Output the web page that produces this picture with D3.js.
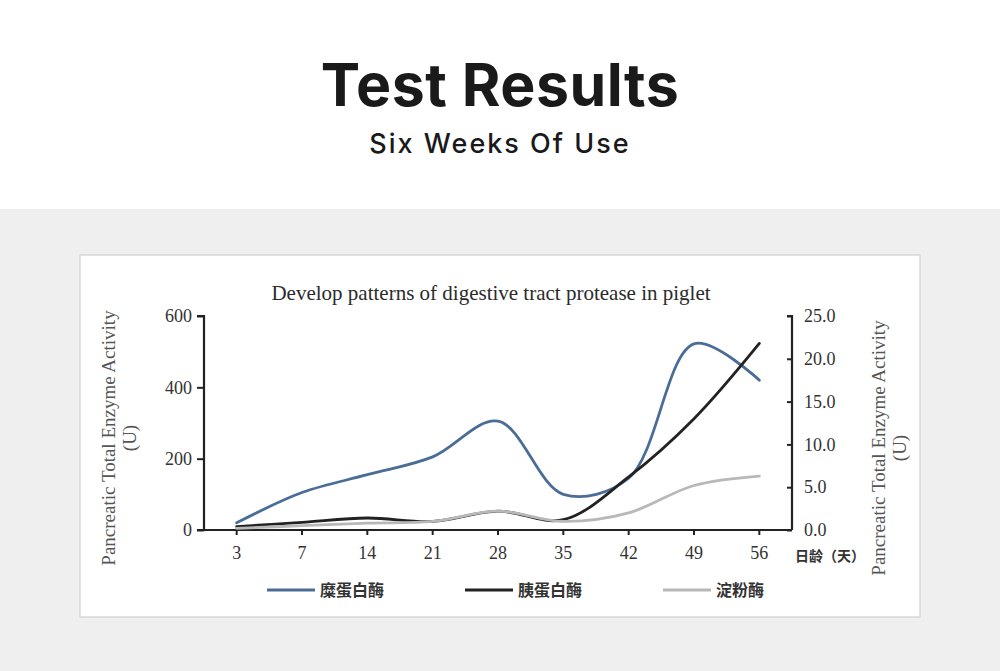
<!DOCTYPE html>
<html>
<head>
<meta charset="utf-8">
<script src="https://cdn.jsdelivr.net/npm/d3@7"></script>
<style>
  html, body { margin: 0; padding: 0; background: #fff; }
  svg { display: block; }
</style>
</head>
<body>
<div id="chart"></div>
<script>
// x categories (day of age)
var days = ["3", "7", "14", "21", "28", "35", "42", "49", "56"];
// 糜蛋白酶 - left axis
var chymotrypsin = [20, 105, 155, 205, 305, 100, 145, 522, 420];
// 胰蛋白酶 - right axis
var trypsin = [0.4, 0.9, 1.4, 1.0, 2.2, 1.2, 6.2, 13.0, 21.8];
// 淀粉酶 - right axis
var amylase = [0.2, 0.5, 0.8, 1.0, 2.2, 1.0, 2.0, 5.2, 6.3];

var leftTicks = [0, 200, 400, 600];
var rightTicks = [0, 5, 10, 15, 20, 25];

var series = [
  { name: "糜蛋白酶", values: chymotrypsin, axis: "left", color: "#4a6d98" },
  { name: "胰蛋白酶", values: trypsin, axis: "right", color: "#222222" },
  { name: "淀粉酶", values: amylase, axis: "right", color: "#b8b8b8" }
];

var W = 1000, H = 671;
var svg = d3.select("#chart").append("svg")
    .attr("width", W).attr("height", H);

// header
svg.append("text")
    .attr("x", 500).attr("y", 106)
    .attr("text-anchor", "middle")
    .style("font-family", "Inter, 'Open Sans', sans-serif")
    .style("font-weight", 700)
    .style("font-size", "59px")
    .style("letter-spacing", "0.5px")
    .style("fill", "#1a1a1a")
    .text("Test Results");

svg.append("text")
    .attr("x", 500).attr("y", 153)
    .attr("text-anchor", "middle")
    .style("font-family", "Inter, 'Open Sans', sans-serif")
    .style("font-weight", 500)
    .style("font-size", "27px")
    .style("letter-spacing", "2px")
    .style("fill", "#1a1a1a")
    .text("Six Weeks Of Use");

// gray band
svg.append("rect")
    .attr("x", 0).attr("y", 209).attr("width", W).attr("height", H - 209)
    .attr("fill", "#efefef");

// card
svg.append("rect")
    .attr("x", 80).attr("y", 255).attr("width", 840).attr("height", 362)
    .attr("fill", "#fff")
    .attr("stroke", "#d8d8d8").attr("stroke-width", 1.5);

var plot = { left: 204, right: 792, top: 316, bottom: 530 };

var x = d3.scaleBand().domain(days).range([plot.left, plot.right]).padding(0);
var yL = d3.scaleLinear().domain([0, 600]).range([plot.bottom, plot.top]);
var yR = d3.scaleLinear().domain([0, 25]).range([plot.bottom, plot.top]);

var serif = "'Liberation Serif', 'DejaVu Serif', serif";

// chart title
svg.append("text")
    .attr("x", 491).attr("y", 300)
    .attr("text-anchor", "middle")
    .style("font-family", serif)
    .style("font-size", "21px")
    .style("fill", "#2b2b2b")
    .text("Develop patterns of digestive tract protease in piglet");

// axes
var leftAxis = svg.append("g")
    .attr("transform", "translate(" + plot.left + ",0)")
    .call(d3.axisLeft(yL).tickValues(leftTicks).tickSize(7).tickPadding(5));

var rightAxis = svg.append("g")
    .attr("transform", "translate(" + plot.right + ",0)")
    .call(d3.axisRight(yR).tickValues(rightTicks).tickSize(-5).tickPadding(12)
      .tickFormat(d3.format(".1f")));

var xAxis = svg.append("g")
    .attr("transform", "translate(0," + plot.bottom + ")")
    .call(d3.axisBottom(x).tickSize(5).tickPadding(11));

[leftAxis, rightAxis, xAxis].forEach(function (g) {
  g.select(".domain").attr("stroke", "#222").attr("stroke-width", 2.2);
  g.selectAll(".tick line").attr("stroke", "#222").attr("stroke-width", 2);
  g.selectAll(".tick text")
      .style("font-family", serif)
      .style("font-size", "18px")
      .style("fill", "#333");
});
xAxis.select(".domain").attr("d", "M" + plot.left + ",0H" + plot.right);
leftAxis.select(".domain").attr("d", "M-7," + plot.top + "H0V" + plot.bottom + "H-7");
rightAxis.select(".domain").attr("d", "M-5," + plot.top + "H0V" + plot.bottom);

// x axis unit
svg.append("text")
    .attr("x", 795).attr("y", 561)
    .style("font-family", "'Noto Sans CJK SC', sans-serif")
    .style("font-size", "14px")
    .style("font-weight", 700)
    .style("fill", "#333")
    .text("日龄（天）");

// y axis labels
function yLabel(cx, cy) {
  var t = svg.append("text")
      .attr("transform", "translate(" + cx + "," + cy + ") rotate(-90)")
      .attr("text-anchor", "middle")
      .style("font-family", serif)
      .style("font-size", "19px")
      .style("fill", "#555");
  t.append("tspan").attr("x", 0).attr("y", 0).text("Pancreatic Total Enzyme Activity");
  t.append("tspan").attr("x", 0).attr("y", 21).text("(U)");
}
yLabel(115, 438);
yLabel(885, 448);

// lines
var cx = function (i) { return x(days[i]) + x.bandwidth() / 2; };

series.forEach(function (s) {
  var yS = s.axis === "left" ? yL : yR;
  var line = d3.line()
      .x(function (d, i) { return cx(i); })
      .y(function (d) { return yS(d); })
      .curve(d3.curveCatmullRom.alpha(0.5));
  svg.append("path")
      .datum(s.values)
      .attr("d", line)
      .attr("fill", "none")
      .attr("stroke", s.color)
      .attr("stroke-width", 2.8)
      .attr("stroke-linecap", "round");
});

// legend
var legendX = [267, 465, 663];
series.forEach(function (s, i) {
  var g = svg.append("g").attr("transform", "translate(" + legendX[i] + ",590)");
  g.append("line")
      .attr("x1", 0).attr("x2", 48)
      .attr("stroke", s.color).attr("stroke-width", 3);
  g.append("text")
      .attr("x", 53).attr("y", 6)
      .style("font-family", "'Noto Sans CJK SC', sans-serif")
      .style("font-size", "16px")
      .style("font-weight", 700)
      .style("fill", "#333")
      .text(s.name);
});
</script>
</body>
</html>
